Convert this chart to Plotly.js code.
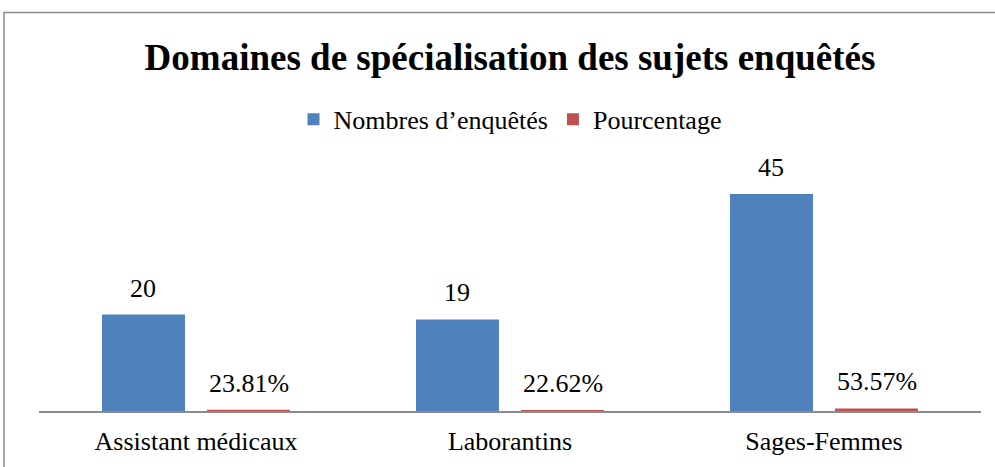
<!DOCTYPE html>
<html><head><meta charset="utf-8">
<script src="https://cdn.plot.ly/plotly-3.0.1.min.js"></script>
<style>html,body{margin:0;padding:0;background:#fff;overflow:hidden}</style>
</head><body><div id="chart" style="width:995px;height:467px"></div>
<script>
const categories = ["Assistant médicaux", "Laborantins", "Sages-Femmes"];
const nombres = [20, 19, 45];
const pourcentages = [0.2381, 0.2262, 0.5357];
const pourcentLabels = ["23.81%", "22.62%", "53.57%"];

const font = "Liberation Serif, Times New Roman, serif";
const labelSize = 26;

const bargap = 0.331, bargroupgap = 0.21;
// offset of each bar centre from category centre (in category units)
const half = (1 - bargap) / 4;

const traces = [
  {type:"bar", name:"Nombres d’enquêtés", x:categories, y:nombres,
   marker:{color:"#4F81BD"}},
  {type:"bar", name:"Pourcentage", x:categories, y:pourcentages,
   marker:{color:"#C0504D"}}
];

const annotations = [];
categories.forEach((c, i) => {
  annotations.push({x:i - half, y:nombres[i], xref:"x", yref:"y", text:String(nombres[i]),
    showarrow:false, yanchor:"bottom", yshift:10,
    font:{family:font, size:labelSize, color:"#000"}});
  annotations.push({x:i + half, y:pourcentages[i], xref:"x", yref:"y", text:pourcentLabels[i],
    showarrow:false, yanchor:"bottom", yshift:10,
    font:{family:font, size:labelSize, color:"#000"}});
});

const layout = {
  width:995, height:467,
  margin:{l:39, r:14, t:170, b:56},
  paper_bgcolor:"#fff", plot_bgcolor:"#fff",
  font:{family:font, size:labelSize, color:"#000"},
  title:{text:"<b>Domaines de spécialisation des sujets enquêtés</b>",
         font:{family:font, size:37, color:"#000"},
         x:510/995, xanchor:"center", y:1-57/467, yanchor:"middle", yref:"container"},
  barmode:"group", bargap:bargap, bargroupgap:bargroupgap,
  showlegend:true,
  legend:{orientation:"h", x:0.5, xanchor:"center", y:1.21, yanchor:"middle",
          font:{family:font, size:labelSize, color:"#000"}, itemwidth:30, traceorder:"normal"},
  xaxis:{showline:true, linecolor:"#8c8c8c", linewidth:2, ticks:"", showgrid:false,
         tickfont:{family:font, size:labelSize, color:"#000"}, ticklabelstandoff:6},
  yaxis:{range:[0,50], visible:false, showgrid:false, zeroline:false},
  annotations:annotations,
  shapes:[{type:"rect", xref:"paper", yref:"paper",
           x0:(4-39)/942, x1:1.05, y0:-0.4, y1:(411-12.5)/241,
           line:{color:"#8c8c8c", width:1.5}, fillcolor:"rgba(0,0,0,0)", layer:"below"}]
};

Plotly.newPlot("chart", traces, layout, {displayModeBar:false, staticPlot:true});
</script></body></html>
